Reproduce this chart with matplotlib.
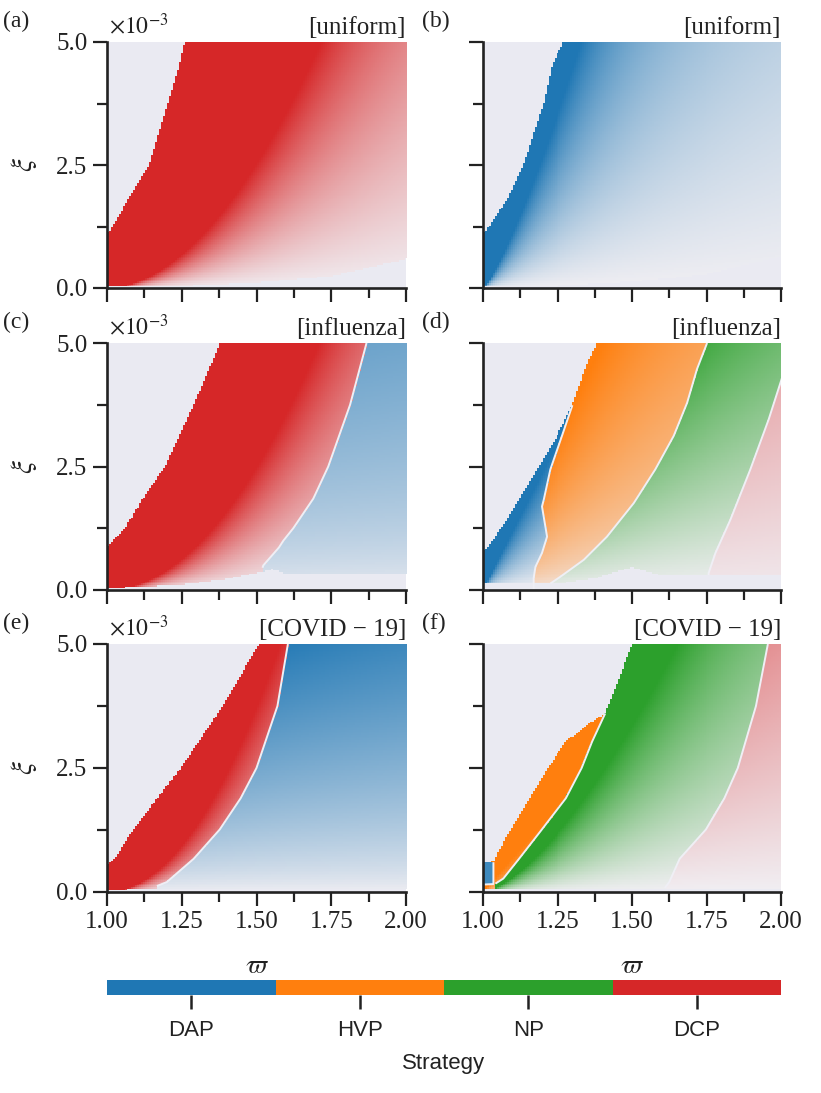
import numpy as np
import matplotlib
matplotlib.use("Agg")
import matplotlib.pyplot as plt
from matplotlib.colors import to_rgb, ListedColormap, BoundaryNorm
from matplotlib.cm import ScalarMappable
from matplotlib.ticker import MultipleLocator, FormatStrFormatter

# ---------------------------------------------------------------- data
strategies = ["DAP", "HVP", "NP", "DCP"]
strategy_colors = ["#1f77b4", "#ff7f0e", "#2ca02c", "#d62728"]
x_ticks = [1.00, 1.25, 1.50, 1.75, 2.00]
y_ticks = [0.0, 2.5, 5.0]          # xi, in units of 1e-3
panel_tags = ["(a)", "(b)", "(c)", "(d)", "(e)", "(f)"]
panel_titles = ["[uniform]", "[uniform]", "[influenza]", "[influenza]",
                "[COVID \u2212 19]", "[COVID \u2212 19]"]

# boundaries (xi in 1e-3, omega)
# (a) uniform, left
a_edge_xi = [0.0, 1.1, 1.25, 1.8, 2.5, 3.0, 3.8, 4.5, 5.0]
a_edge_om = [1.0, 1.0, 1.02, 1.07, 1.14, 1.165, 1.205, 1.24, 1.26]
a_floor_om = [1.0, 1.25, 1.5, 1.75, 2.0]
a_floor_xi = [0.02, 0.04, 0.11, 0.245, 0.59]

# (b) uniform, right
b_edge_xi = [0.0, 1.1, 1.25, 1.8, 2.5, 3.15, 3.8, 4.5, 5.0]
b_edge_om = [1.0, 1.0, 1.02, 1.08, 1.135, 1.17, 1.205, 1.23, 1.27]
b_floor_om = [1.0, 1.25, 1.5, 1.75, 2.0]
b_floor_xi = [0.02, 0.05, 0.13, 0.28, 0.64]

# (c) influenza, left
c_edge_xi = [0.0, 0.86, 1.0, 1.25, 1.85, 2.5, 3.75, 5.0]
c_edge_om = [1.0, 1.0, 1.02, 1.06, 1.12, 1.193, 1.289, 1.377]
c_dcp_dap_xi = [0.45, 0.5, 0.86, 1.0, 1.25, 1.85, 2.5, 3.75, 5.0]
c_dcp_dap_om = [1.52, 1.523, 1.575, 1.59, 1.623, 1.69, 1.74, 1.813, 1.868]
c_floor_om = [1.0, 1.25, 1.4, 1.5, 1.55, 1.6, 1.75, 2.0]
c_floor_xi = [0.03, 0.11, 0.22, 0.35, 0.42, 0.33, 0.32, 0.32]

# (d) influenza, right
d_edge_xi = [0.0, 0.79, 0.9, 1.42, 2.44, 3.12, 3.74, 4.47, 5.0]
d_edge_om = [1.0, 1.0, 1.02, 1.08, 1.18, 1.248, 1.3, 1.343, 1.383]
d_dap_hvp_xi = [0.0, 0.24, 0.47, 0.75, 1.08, 1.69, 1.83, 2.44, 3.12, 3.74, 3.76]
d_dap_hvp_om = [1.17, 1.17, 1.176, 1.198, 1.215, 1.198, 1.204, 1.226, 1.265, 1.30, 1.0]
d_hvp_np_xi = [0.13, 0.27, 0.61, 1.08, 1.76, 2.44, 3.12, 3.79, 4.47, 5.0]
d_hvp_np_om = [1.226, 1.26, 1.338, 1.416, 1.506, 1.578, 1.64, 1.685, 1.718, 1.752]
d_np_dcp_xi = [0.3, 0.34, 0.75, 1.42, 2.44, 3.46, 4.23, 5.0]
d_np_dcp_om = [1.757, 1.757, 1.78, 1.83, 1.897, 1.959, 2.0, 2.04]
d_floor_om = [1.0, 1.05, 1.17, 1.26, 1.38, 1.45, 1.5, 1.55, 1.6, 2.0]
d_floor_xi = [0.12, 0.12, 0.14, 0.135, 0.24, 0.38, 0.46, 0.38, 0.3, 0.3]

# (e) COVID-19, left
e_edge_xi = [0.0, 0.54, 0.7, 1.26, 1.89, 2.5, 3.75, 4.38, 5.0]
e_edge_om = [1.0, 1.0, 1.03, 1.088, 1.167, 1.246, 1.386, 1.447, 1.505]
e_dcp_dap_xi = [0.12, 0.2, 0.67, 1.26, 1.89, 2.5, 3.75, 5.0]
e_dcp_dap_om = [1.167, 1.2, 1.29, 1.377, 1.447, 1.5, 1.57, 1.605]
e_floor_om = [1.0, 1.2, 2.0]
e_floor_xi = [0.04, 0.07, 0.08]

# (f) COVID-19, right
f_edge_xi = [0.0, 0.6, 0.62, 1.21, 1.89, 2.5, 3.03, 3.37, 3.6, 4.25, 5.0]
f_edge_om = [1.0, 1.0, 1.035, 1.086, 1.156, 1.217, 1.278, 1.35, 1.41, 1.454, 1.5]
f_dap_hvp_xi = [0.15, 0.16, 0.6, 0.61]
f_dap_hvp_om = [1.0, 1.035, 1.035, 1.0]
f_hvp_np_xi = [0.17, 0.27, 0.67, 1.21, 1.89, 2.5, 3.03, 3.6, 3.62]
f_hvp_np_om = [1.042, 1.068, 1.121, 1.191, 1.278, 1.331, 1.366, 1.41, 1.0]
f_np_dcp_xi = [0.08, 0.2, 0.67, 1.26, 1.89, 2.5, 3.75, 5.0]
f_np_dcp_om = [1.61, 1.625, 1.66, 1.748, 1.81, 1.855, 1.916, 1.956]
f_floor_om = [1.0, 1.05, 2.0]
f_floor_xi = [0.05, 0.07, 0.08]

# shading strength per region: (p, s_full, gamma, a_max, a_min)
panels = [
    dict(seq=["DCP"], edge=(a_edge_xi, a_edge_om), bounds=[],
         floor=(a_floor_om, a_floor_xi),
         fade={"DCP": (1.9, 1.9, 1.0, 1.0, 0.0)}),
    dict(seq=["DAP"], edge=(b_edge_xi, b_edge_om), bounds=[],
         floor=(b_floor_om, b_floor_xi),
         fade={"DAP": (1.25, 4.0, 1.0, 1.0, 0.0)}),
    dict(seq=["DCP", "DAP"], edge=(c_edge_xi, c_edge_om),
         bounds=[(c_dcp_dap_xi, c_dcp_dap_om)],
         floor=(c_floor_om, c_floor_xi),
         fade={"DCP": (2.0, 2.0, 1.0, 1.0, 0.0),
               "DAP": (0.3, 1.1, 0.6, 0.65, 0.0)}),
    dict(seq=["DAP", "HVP", "NP", "DCP"], edge=(d_edge_xi, d_edge_om),
         bounds=[(d_dap_hvp_xi, d_dap_hvp_om), (d_hvp_np_xi, d_hvp_np_om),
                 (d_np_dcp_xi, d_np_dcp_om)],
         floor=(d_floor_om, d_floor_xi),
         fade={"DAP": (1.0, 2.4, 1.0, 1.0, 0.0),
               "HVP": (1.0, 2.5, 0.6, 1.0, 0.0),
               "NP": (1.0, 1.5, 1.0, 1.0, 0.0),
               "DCP": (1.0, 2.7, 1.0, 1.0, 0.03)}),
    dict(seq=["DCP", "DAP"], edge=(e_edge_xi, e_edge_om),
         bounds=[(e_dcp_dap_xi, e_dcp_dap_om)],
         floor=(e_floor_om, e_floor_xi),
         fade={"DCP": (2.0, 3.0, 1.0, 1.0, 0.0),
               "DAP": (0.3, 1.15, 0.75, 0.95, 0.0)}),
    dict(seq=["DAP", "HVP", "NP", "DCP"], edge=(f_edge_xi, f_edge_om),
         bounds=[(f_dap_hvp_xi, f_dap_hvp_om), (f_hvp_np_xi, f_hvp_np_om),
                 (f_np_dcp_xi, f_np_dcp_om)],
         floor=(f_floor_om, f_floor_xi),
         fade={"DAP": (1.0, 1.0, 1.0, 0.85, 0.85),
               "HVP": (1.0, 1.4, 0.5, 1.0, 0.0),
               "NP": (1.5, 1.9, 1.0, 1.0, 0.0),
               "DCP": (1.0, 2.2, 1.0, 1.0, 0.0)}),
]

# ---------------------------------------------------------------- style
plt.rcParams["font.family"] = ["Liberation Serif", "DejaVu Serif"]
plt.rcParams["mathtext.fontset"] = "stix"
BG = "#EAEAF2"
INK = "#222222"
LOW = np.array(to_rgb("#F1EFF3"))
color_of = dict(zip(strategies, strategy_colors))

NX, NY = 150, 150
om_c = 1 + (np.arange(NX) + 0.5) / NX
xi_c = 5.0 * (np.arange(NY) + 0.5) / NY
OM, XI = np.meshgrid(om_c, xi_c)


def render(p):
    edge = np.interp(xi_c, *p["edge"])[:, None]
    idx = np.zeros(OM.shape, dtype=int)
    for bx, bo in p["bounds"]:
        b = np.maximum(np.interp(xi_c, bx, bo)[:, None], edge)
        idx += (OM >= b).astype(int)
    floor = np.interp(om_c, *p["floor"])[None, :]
    valid = (OM >= edge) & (XI >= floor)
    img = np.zeros(OM.shape + (4,))
    for k, name in enumerate(p["seq"]):
        m = valid & (idx == k)
        pp, sfull, gam, amax, amin = p["fade"][name]
        s = (XI / 5.0) / np.maximum(OM - 1.0, 0.01) ** pp
        a = amin + (amax - amin) * np.clip(s / sfull, 0, 1) ** gam
        col = np.array(to_rgb(color_of[name]))
        rgb = LOW * (1 - a[..., None]) + col * a[..., None]
        img[m, :3] = rgb[m]
        img[m, 3] = 1.0
    return img


W, H = 821, 1093
fig = plt.figure(figsize=(W / 100, H / 100), dpi=100)


def fx(px):
    return px / W


def fy(py):
    return 1 - py / H


col_x = [107, 483]
col_w = [299, 298]
row_top = [42, 343, 644]
row_bot = [288, 590, 892]

for i, p in enumerate(panels):
    r, c = divmod(i, 2)
    ax = fig.add_axes([fx(col_x[c]), fy(row_bot[r]), col_w[c] / W,
                       (row_bot[r] - row_top[r]) / H])
    ax.set_facecolor(BG)
    ax.imshow(render(p), origin="lower", extent=[1, 2, 0, 5], aspect="auto",
              interpolation="nearest", zorder=1)
    # light lines between strategy regions
    for bx, bo in p["bounds"]:
        bx = np.asarray(bx, float)
        bo = np.asarray(bo, float).copy()
        e = np.interp(bx, *p["edge"])
        bo[bo < e - 0.002] = np.nan
        ax.plot(bo, bx, color="#EFEFF5", lw=1.4, zorder=2,
                solid_capstyle="butt")
    ax.set_xlim(1, 2)
    ax.set_ylim(0, 5)
    for s in ["top", "right"]:
        ax.spines[s].set_visible(False)
    for s in ["left", "bottom"]:
        ax.spines[s].set_linewidth(1.9)
        ax.spines[s].set_color(INK)
        ax.spines[s].set_zorder(5)
    ax.set_xticks(x_ticks)
    ax.set_yticks(y_ticks)
    ax.xaxis.set_minor_locator(MultipleLocator(0.125))
    ax.yaxis.set_minor_locator(MultipleLocator(1.25))
    ax.xaxis.set_major_formatter(FormatStrFormatter("%.2f"))
    ax.yaxis.set_major_formatter(FormatStrFormatter("%.1f"))
    ax.tick_params(which="major", length=10, width=1.6, color=INK,
                   labelsize=18, labelcolor=INK, direction="out", pad=4)
    ax.tick_params(which="minor", length=7, width=1.6, color=INK,
                   direction="out")
    ax.tick_params(axis="x", labelbottom=(r == 2))
    ax.tick_params(axis="y", labelleft=(c == 0))

    top = row_top[r]
    fig.text(fx(406 if c == 0 else 781), fy(top - 8), panel_titles[i],
             ha="right", va="baseline", fontsize=18, color=INK)
    fig.text(fx(3 if c == 0 else 422), fy(top - 15), panel_tags[i],
             ha="left", va="baseline", fontsize=17, color=INK)
    if c == 0:
        fig.text(fx(109), fy(top - 8), r"$\times10^{-3}$", ha="left",
                 va="baseline", fontsize=17, color=INK)
        fig.text(fx(24), fy((top + row_bot[r]) / 2), r"$\xi$", rotation=90,
                 ha="center", va="center", fontsize=21, color=INK)
    if r == 2:
        fig.text(fx(col_x[c] + col_w[c] / 2), fy(967), r"$\varpi$",
                 ha="center", va="center", fontsize=19, color=INK)

# ---------------------------------------------------------------- colorbar
cax = fig.add_axes([fx(107), fy(995), 674 / W, 15 / H])
cmap = ListedColormap(strategy_colors)
norm = BoundaryNorm([0, 1, 2, 3, 4], cmap.N)
cb = fig.colorbar(ScalarMappable(norm=norm, cmap=cmap), cax=cax,
                  orientation="horizontal", ticks=[0.5, 1.5, 2.5, 3.5])
cb.outline.set_visible(False)
cb.minorticks_off()
cb.set_ticklabels(strategies)
cax.tick_params(which="major", length=10, width=1.8, color=INK, pad=8,
                labelsize=16, labelcolor=INK)
cax.tick_params(which="minor", length=0)
for t in cax.get_xticklabels():
    t.set_fontfamily(["Liberation Sans", "DejaVu Sans"])
cb.set_label("Strategy", fontsize=16, color=INK, labelpad=9,
             family=["Liberation Sans", "DejaVu Sans"])

fig.savefig("out.png", dpi=100)
